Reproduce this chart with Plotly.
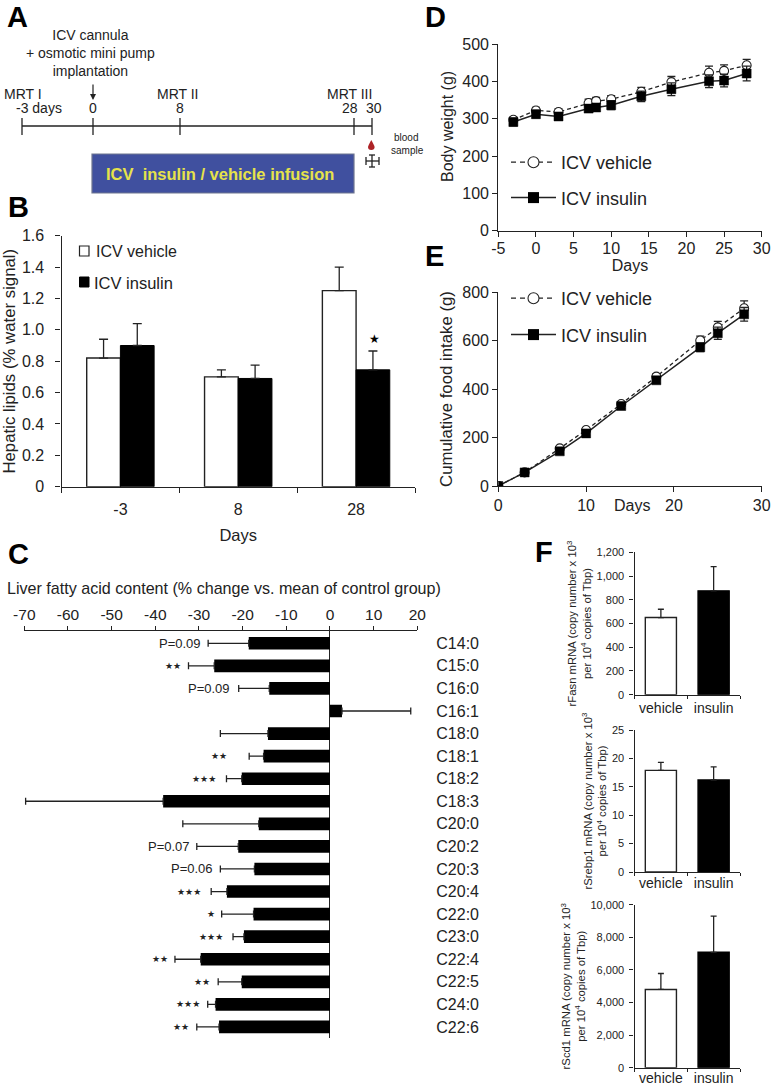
import plotly.graph_objects as go

W, H = 771, 1084
INK = "#222222"
FONT = "Liberation Sans"

# ---------- data ----------
b_days = ["-3", "8", "28"]
b_vehicle = [0.82, 0.70, 1.25]
b_vehicle_err = [0.12, 0.045, 0.15]
b_insulin = [0.90, 0.69, 0.745]
b_insulin_err = [0.14, 0.085, 0.12]

c_acids = ["C14:0", "C15:0", "C16:0", "C16:1", "C18:0", "C18:1", "C18:2", "C18:3", "C20:0",
           "C20:2", "C20:3", "C20:4", "C22:0", "C23:0", "C22:4", "C22:5", "C24:0", "C22:6"]
c_change = [-18.6, -26.5, -13.9, 2.75, -14.2, -15.2, -20.2, -38.2, -16.3,
            -21.0, -17.3, -23.6, -17.5, -19.7, -29.6, -20.2, -26.2, -25.4]
c_err = [9.3, 5.9, 7.0, 15.75, 10.9, 3.3, 3.5, 31.5, 17.4,
         9.5, 7.8, 3.6, 7.3, 2.5, 5.9, 5.4, 1.8, 5.1]
c_notes = ["P=0.09", "★★", "P=0.09", "", "", "★★", "★★★", "", "",
           "P=0.07", "P=0.06", "★★★", "★", "★★★", "★★", "★★", "★★★", "★★"]
c_note_gap = [-5, -5, -7, 0, 0, -20, -8, 0, 0, -5, -5, -8, -5, -8, -5, -6, -6, -6]
c_ticks = [-70, -60, -50, -40, -30, -20, -10, 0, 10, 20]

d_days = [-3, 0, 3, 7, 8, 10, 14, 18, 23, 25, 28]
d_vehicle = [297, 322, 318, 342, 347, 352, 372, 398, 423, 428, 443]
d_vehicle_err = [8, 8, 8, 10, 10, 10, 12, 15, 18, 16, 16]
d_insulin = [291, 312, 306, 327, 330, 336, 360, 379, 400, 402, 421]
d_insulin_err = [10, 10, 10, 10, 10, 12, 14, 17, 17, 17, 20]
d_ticks = [-5, 0, 5, 10, 15, 20, 25, 30]

e_days = [0, 3, 7, 10, 14, 18, 23, 25, 28]
e_vehicle = [0, 56, 155, 231, 338, 451, 600, 654, 733]
e_vehicle_err = [0, 5, 6, 8, 10, 12, 18, 25, 30]
e_insulin = [0, 56, 143, 217, 330, 436, 572, 630, 708]
e_insulin_err = [0, 5, 6, 8, 10, 12, 18, 25, 28]

f_groups = ["vehicle", "insulin"]
fasn = [650, 875]
fasn_err = [70, 205]
srebp = [17.9, 16.2]
srebp_err = [1.4, 2.3]
scd = [4800, 7080]
scd_err = [980, 2220]


# ---------- helpers ----------
def px(x):
    return x / W


def py(y):
    return 1 - y / H


def dom_x(a, b):
    return [px(a), px(b)]


def dom_y(top, bottom):
    return [py(bottom), py(top)]


def axis(**kw):
    base = dict(showgrid=False, zeroline=False, showline=True, linecolor=INK, linewidth=1.3,
                ticks="outside", ticklen=5, tickwidth=1.2, tickcolor=INK,
                tickfont=dict(family=FONT, size=16, color=INK), automargin=False)
    base.update(kw)
    return base


def title(text, size=15.5, standoff=None):
    t = dict(text=text, font=dict(family=FONT, size=size, color=INK))
    if standoff is not None:
        t["standoff"] = standoff
    return t


fig = go.Figure()


def err(values, cap=4, both=False):
    e = dict(type="data", array=values, visible=True, color=INK, thickness=1.3, width=cap)
    if not both:
        e["symmetric"] = False
        e["arrayminus"] = [0] * len(values)
    return e


# ---------- panel B ----------
fig.add_trace(go.Bar(x=b_days, y=b_vehicle, width=0.286, offset=-0.286, marker=dict(color="white", line=dict(color=INK, width=1.4)),
                     error_y=err(b_vehicle_err, 4.5), xaxis="x", yaxis="y", showlegend=False))
fig.add_trace(go.Bar(x=b_days, y=b_insulin, width=0.286, offset=0, marker=dict(color="black", line=dict(color="black", width=1)),
                     error_y=err(b_insulin_err, 4.5), xaxis="x", yaxis="y", showlegend=False))

# ---------- panel C ----------
c_minus = [e if v < 0 else 0 for v, e in zip(c_change, c_err)]
c_plus = [e if v > 0 else 0 for v, e in zip(c_change, c_err)]
fig.add_trace(go.Bar(y=c_acids, x=c_change, orientation="h", width=0.56, marker=dict(color="black", line=dict(width=0)),
                     error_x=dict(type="data", symmetric=False, array=c_plus, arrayminus=c_minus, color=INK, thickness=1.3, width=3.5),
                     xaxis="x2", yaxis="y2", showlegend=False))


# ---------- panels D and E ----------
def lines(x, vehicle, vehicle_err, insulin, insulin_err, xa, ya, legend):
    fig.add_trace(go.Scatter(x=x, y=vehicle, mode="lines+markers", line=dict(color=INK, width=1.3, dash="4px,3px"),
                             marker=dict(symbol="circle", size=9, color="white", line=dict(color=INK, width=1.1)),
                             error_y=err(vehicle_err, 4, True), xaxis=xa, yaxis=ya, showlegend=False))
    fig.add_trace(go.Scatter(x=x, y=insulin, mode="lines+markers", line=dict(color=INK, width=1.5),
                             marker=dict(symbol="square", size=9, color="black", line=dict(color="black", width=0.5)),
                             error_y=err(insulin_err, 4, True), xaxis=xa, yaxis=ya, showlegend=False))
    fig.add_trace(go.Scatter(x=[None], y=[None], name="ICV vehicle", mode="lines+markers", legendgroup=legend + "a", legend=legend,
                             line=dict(color=INK, width=1.3, dash="5px,4px"),
                             marker=dict(symbol="circle", size=11, color="white", line=dict(color=INK, width=1.1)),
                             xaxis=xa, yaxis=ya))
    fig.add_trace(go.Scatter(x=[None], y=[None], name="ICV insulin", mode="lines+markers", legendgroup=legend + "b", legend=legend,
                             line=dict(color=INK, width=1.5),
                             marker=dict(symbol="square", size=11, color="black"),
                             xaxis=xa, yaxis=ya))


lines(d_days, d_vehicle, d_vehicle_err, d_insulin, d_insulin_err, "x3", "y3", "legend")
lines(e_days, e_vehicle, e_vehicle_err, e_insulin, e_insulin_err, "x4", "y4", "legend2")

# ---------- panel F ----------
for vals, errs, xa, ya in [(fasn, fasn_err, "x5", "y5"), (srebp, srebp_err, "x6", "y6"), (scd, scd_err, "x7", "y7")]:
    fig.add_trace(go.Bar(x=f_groups, y=vals, width=0.59,
                         marker=dict(color=["white", "black"], line=dict(color=[INK, "black"], width=1.4)),
                         error_y=err(errs, 3), xaxis=xa, yaxis=ya, showlegend=False))


# ---------- text and shapes ----------
ann = []
shapes = []


def text(x, y, s, size=14, anchor="center", color=INK, bold=False, family=FONT, **kw):
    if bold:
        s = "<b>" + s + "</b>"
    ann.append(dict(xref="paper", yref="paper", x=px(x), y=py(y), text=s, showarrow=False, xanchor=anchor, yanchor="middle",
                    font=dict(family=family, size=size, color=color), **kw))


def line(x0, y0, x1, y1, width=1.3, color=INK):
    shapes.append(dict(type="line", xref="paper", yref="paper", x0=px(x0), y0=py(y0), x1=px(x1), y1=py(y1),
                       line=dict(color=color, width=width)))


def rect(x0, y0, x1, y1, fill, border, width=1):
    shapes.append(dict(type="rect", xref="paper", yref="paper", x0=px(x0), y0=py(y0), x1=px(x1), y1=py(y1),
                       fillcolor=fill, line=dict(color=border, width=width)))


for letter, x, y, size in [("A", 5, 17, 29), ("B", 6, 207, 29), ("C", 6, 554, 29), ("D", 423, 17, 29), ("E", 423, 256, 29), ("F", 533, 552, 29)]:
    text(x, y, letter, size=size, anchor="left", bold=True, color="black")

# panel A schematic
text(90, 53, "ICV cannula<br>+ osmotic mini pump<br>implantation", size=14)
text(23, 94, "MRT I"); text(39, 108, "-3 days"); text(93, 108, "0")
text(178, 94, "MRT II"); text(180, 108, "8")
text(349, 94, "MRT III"); text(350, 108, "28"); text(374, 108, "30")
text(406, 138, "blood", size=10); text(407, 151, "sample", size=10)
line(22, 126, 372, 126)
for tx in (22, 93, 180, 354, 372):
    line(tx, 118, tx, 135)
rect(92, 154, 354, 193, "#40509f", "#6f7690", 1.2)
text(220, 174, "ICV  insulin / vehicle infusion", size=16.5, bold=True, color="#e6e24a")
ann.append(dict(xref="paper", yref="paper", x=px(93), y=py(100), ax=0, ay=-17, text="", showarrow=True,
                arrowhead=2, arrowsize=1, arrowwidth=1.2, arrowcolor=INK))
shapes.append(dict(type="path", xref="paper", yref="paper", fillcolor="#ad2327", line=dict(width=0),
                   path=f"M {px(371.3)} {py(140)} Q {px(368)} {py(146)} {px(368)} {py(147)} Q {px(368)} {py(150)} {px(371.3)} {py(150)} "
                        f"Q {px(374.6)} {py(150)} {px(374.6)} {py(147)} Q {px(374.6)} {py(146)} {px(371.3)} {py(140)} Z"))
line(372, 155, 372, 167); line(366, 161, 379, 161); line(366, 157, 366, 165); line(379, 157, 379, 165)
line(369, 155, 375, 155); line(369, 167, 375, 167)

# panel B legend
rect(79.5, 246, 89, 256, "white", INK, 1.2)
text(94, 252, "ICV vehicle", size=16, anchor="left")
rect(79.5, 277, 89, 287, "black", "black", 1)
text(92, 283, "ICV insulin", size=16.5, anchor="left")

# axis titles that do not sit at the centre of their axis
text(632, 505, "Days", size=16)
text(447, 127, "Body weight (g)", size=16, textangle=-90)

# panel C annotations
for acid, note, gap, v, e in zip(c_acids, c_notes, c_note_gap, c_change, c_err):
    if note:
        star = note.startswith("★")
        ann.append(dict(xref="x2", yref="y2", x=v - e, y=acid, text=note, showarrow=False, xanchor="right", xshift=gap,
                        font=dict(family="DejaVu Sans" if star else FONT, size=9 if star else 13, color=INK)))
ann.append(dict(xref="x", yref="y", x=2, y=b_insulin[2] + b_insulin_err[2], text="★", showarrow=False, xshift=18, yanchor="bottom", yshift=3,
                font=dict(family="DejaVu Sans", size=12, color="black")))

f_title = lambda gene: f"{gene} mRNA (copy number x 10<sup>3</sup><br>per 10<sup>4</sup> copies of Tbp)"

layout_axes = dict(
    xaxis=axis(domain=dom_x(61.5, 415), type="category", categoryorder="array", categoryarray=b_days, range=[-0.5, 2.5], anchor="y",
               tickson="boundaries", ticklabelstandoff=8, title=title("Days", 16.5, 12)),
    yaxis=axis(domain=dom_y(235.7, 486.7), range=[0, 1.6], tickvals=[0, .2, .4, .6, .8, 1.0, 1.2, 1.4, 1.6],
               ticktext=["0", "0.2", "0.4", "0.6", "0.8", "1.0", "1.2", "1.4", "1.6"], anchor="x", ticklabelstandoff=8,
               title=title("Hepatic lipids (% water signal)", 16.8, 2)),
    xaxis2=axis(domain=dom_x(24.3, 417.3), range=[-70, 20], tickvals=c_ticks, ticktext=[str(t) for t in c_ticks], side="top", anchor="y2",
                zeroline=True, zerolinecolor=INK, zerolinewidth=1.4, ticklen=4,
                tickfont=dict(family=FONT, size=15.5, color=INK)),
    yaxis2=axis(domain=dom_y(631, 1038), type="category", categoryorder="array", categoryarray=c_acids, range=[17.49, -0.545], anchor="x2", side="right",
                showline=False, ticks="", ticklabelstandoff=18),
    xaxis3=axis(domain=dom_x(498.3, 761.7), range=[-5, 30], tickvals=d_ticks, ticktext=[str(t) for t in d_ticks], anchor="y3", ticklabelstandoff=-2,
                title=title("Days", 16, 0)),
    yaxis3=axis(domain=dom_y(44, 230.7), range=[0, 500], dtick=100, anchor="x3"),
    xaxis4=axis(domain=dom_x(498.3, 761.7), range=[0, 30], dtick=10, anchor="y4"),
    yaxis4=axis(domain=dom_y(292, 486), range=[0, 800], dtick=200, anchor="x4", title=title("Cumulative food intake (g)", 16.8, 5)),
)
text(223.5, 588, "Liver fatty acid content (% change vs. mean of control group)", size=16.1)
for i, (top, bottom, ymax, dtick, gene, fmt, label_gap) in enumerate([(552.3, 694.7, 1200, 200, "rFasn", ",d", 0),
                                                                      (730, 872, 25, 5, "rSrebp1", "d", -2),
                                                                      (904.7, 1067.7, 10000, 2000, "rScd1", ",d", -3)]):
    n = i + 5
    layout_axes[f"xaxis{n}"] = axis(domain=dom_x(634.5, 740), type="category", categoryorder="array", categoryarray=f_groups, range=[-0.5, 1.5],
                                    anchor=f"y{n}", tickson="boundaries", ticklen=3, tickangle=0, ticklabelstandoff=label_gap,
                                    tickfont=dict(family=FONT, size=14, color=INK))
    layout_axes[f"yaxis{n}"] = axis(domain=dom_y(top, bottom), range=[0, ymax], dtick=dtick, tickformat=fmt, anchor=f"x{n}", ticklen=4, ticklabelstandoff=3,
                                    tickfont=dict(family=FONT, size=11, color=INK), title=title(f_title(gene), 11.3, 2))

legend_base = dict(bgcolor="rgba(0,0,0,0)", font=dict(family=FONT, size=18, color=INK), itemwidth=45,
                   xanchor="left", yanchor="top", itemclick=False, itemdoubleclick=False, traceorder="grouped")
fig.update_layout(
    width=W, height=H, autosize=False, margin=dict(l=0, r=0, t=0, b=0), paper_bgcolor="white", plot_bgcolor="rgba(0,0,0,0)",
    barmode="overlay", showlegend=True,
    legend=dict(x=px(506), y=py(144), tracegroupgap=9, **legend_base),
    legend2=dict(x=px(506), y=py(280), tracegroupgap=10, **legend_base),
    annotations=ann, shapes=shapes, **layout_axes,
)

fig.write_html("out.html", config=dict(displayModeBar=False),
               post_script="document.body.style.margin='0';document.body.style.overflow='hidden';window.dispatchEvent(new Event('resize'));")
